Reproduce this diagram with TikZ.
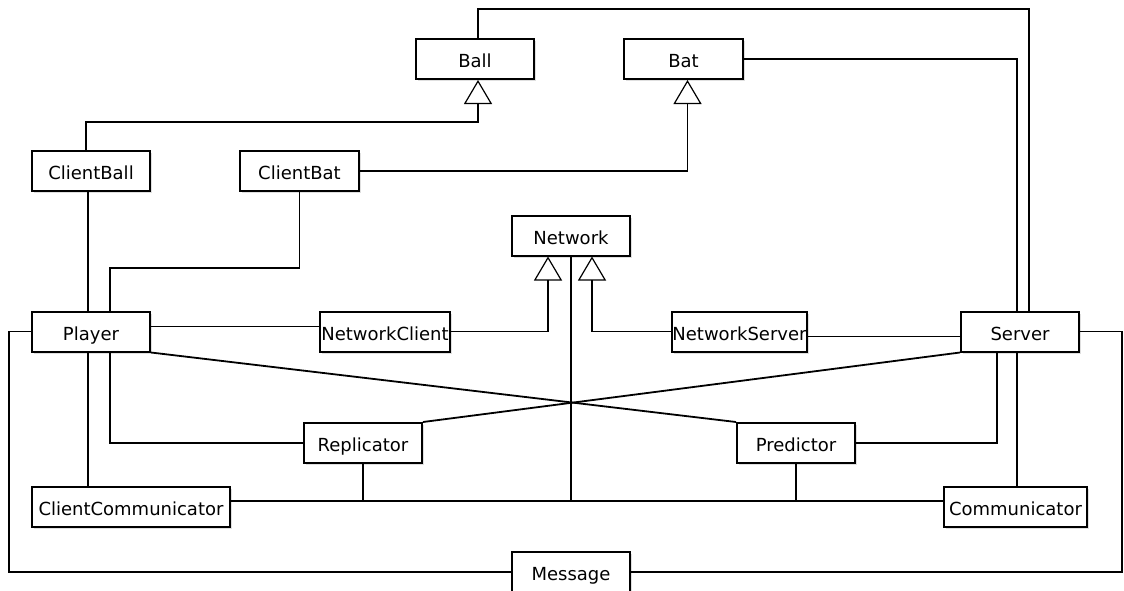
\documentclass[tikz,border=0pt]{standalone}
\usepackage{fontspec}
\setmainfont{DejaVu Sans}
\usepackage{tikz}
\usetikzlibrary{arrows.meta}
\usetikzlibrary{shadows}

\begin{document}
\begin{tikzpicture}[x=1pt, y=-1pt,
  cls/.style={draw, line width=2pt, fill=white, minimum height=40pt, inner sep=0pt,
    font=\fontsize{18}{20}\selectfont, text height=18pt, text depth=1pt,
    drop shadow={shadow xshift=2pt, shadow yshift=-2pt, opacity=0.25}},
  assoc/.style={line width=1.8pt},
  inherit/.style={line width=1.8pt, -{Triangle[open, length=24pt, width=28pt, line width=1.2pt]}}]
\fill[white] (0,0) rectangle (1124,590);
\useasboundingbox (0,0) rectangle (1124,590);
\node[cls, minimum width=118pt] (ball) at (475,59) {Ball};
\node[cls, minimum width=119pt] (bat) at (683.5,59) {Bat};
\node[cls, minimum width=118pt] (cball) at (91,171) {ClientBall};
\node[cls, minimum width=119pt] (cbat) at (299.5,171) {ClientBat};
\node[cls, minimum width=118pt] (net) at (571,235.5) {Network};
\node[cls, minimum width=118pt] (player) at (91,331.5) {Player};
\node[cls, minimum width=130pt] (nclient) at (385,331.5) {NetworkClient};
\node[cls, minimum width=135pt] (nserver) at (739.5,331.5) {NetworkServer};
\node[cls, minimum width=118pt] (server) at (1020,331.5) {Server};
\node[cls, minimum width=118pt] (repl) at (363,443) {Replicator};
\node[cls, minimum width=118pt] (pred) at (796,443) {Predictor};
\node[cls, minimum width=198pt] (ccomm) at (131,507) {ClientCommunicator};
\node[cls, minimum width=143pt] (comm) at (1015.5,507) {Communicator};
\node[cls, minimum width=118pt] (msg) at (571,572) {Message};
\draw[assoc] ([xshift=3pt]ball.north) -- ++(0,-29) -| ([xshift=9pt]server.north);
\draw[assoc] (bat.east) -| ([xshift=-3pt]server.north);
\draw[inherit] ([xshift=-5pt]cball.north) -- ++(0,-28) -| ([xshift=3pt]ball.south);
\draw[inherit] (cbat.east) -| ([xshift=4pt]bat.south);
\draw[assoc] ([xshift=-3pt]cball.south) -- ([xshift=-3pt]player.north);
\draw[assoc] (cbat.south) -- ++(0,76) -| ([xshift=19pt]player.north);
\draw[assoc] ([yshift=5pt]player.east) -- ([yshift=5pt]nclient.west);
\draw[inherit] (nclient.east) -| ([xshift=-23pt]net.south);
\draw[inherit] (nserver.west) -| ([xshift=21pt]net.south);
\draw[assoc] ([yshift=-5pt]nserver.east) -- ([yshift=-5pt]server.west);
\coordinate (bus) at ([yshift=6pt]ccomm.east);
\draw[assoc] (bus) -- (bus -| comm.west);
\draw[assoc] (net.south) -- (net.south |- bus);
\draw[assoc] (repl.south) -- (repl.south |- bus);
\draw[assoc] (pred.south) -- (pred.south |- bus);
\draw[assoc] (player.west) -- ++(-22,0) |- (msg.west);
\draw[assoc] (msg.east) -- ++(491,0) |- (server.east);
\draw[assoc] ([xshift=-3pt]player.south) -- ([xshift=-3pt]player.south |- ccomm.north);
\draw[assoc] ([xshift=19pt]player.south) |- (repl.west);
\draw[assoc] (player.south east) -- (pred.north west);
\draw[assoc] (server.south west) -- (repl.north east);
\draw[assoc] ([xshift=-23pt]server.south) |- (pred.east);
\draw[assoc] ([xshift=-3pt]server.south) -- ([xshift=-3pt]server.south |- comm.north);
\end{tikzpicture}
\end{document}
